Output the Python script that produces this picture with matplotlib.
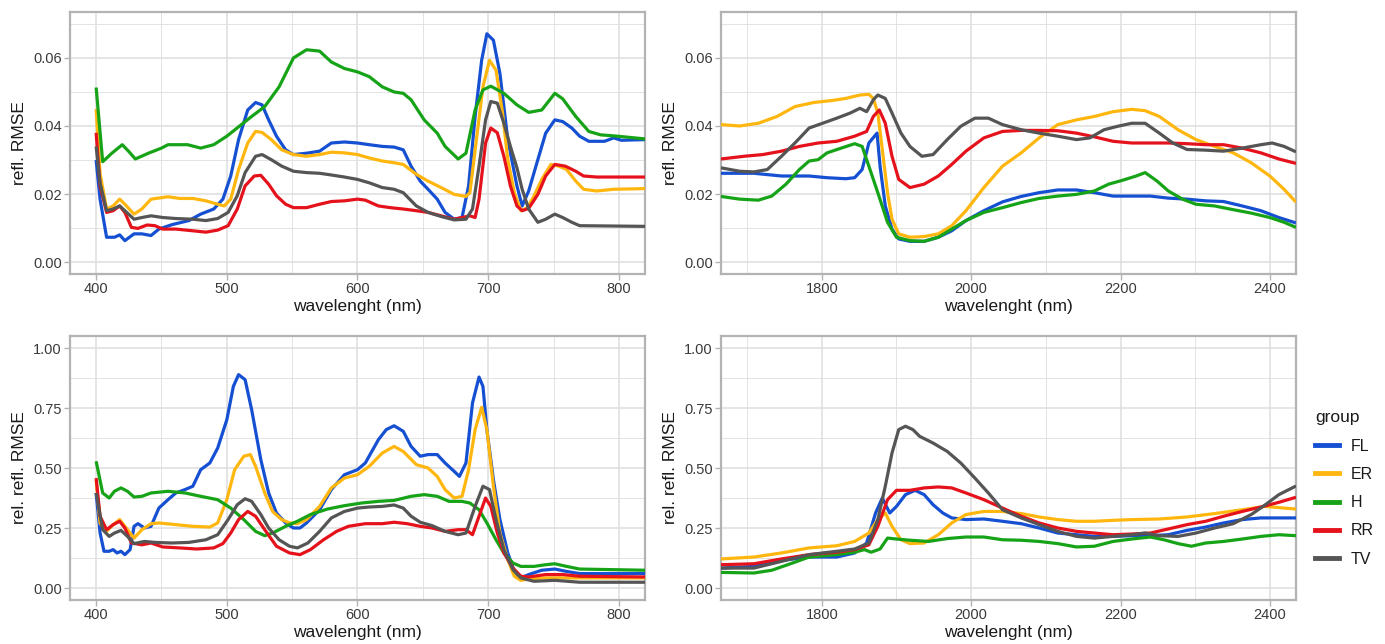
import matplotlib
matplotlib.use("Agg")
import matplotlib.pyplot as plt
from matplotlib.ticker import MultipleLocator
from matplotlib.lines import Line2D

plt.rcParams['font.family'] = ['Liberation Sans', 'DejaVu Sans']

groups = ["FL", "ER", "H", "RR", "TV"]
colors = {"FL": "#1550D2", "ER": "#FFB70F", "H": "#17A317", "RR": "#E5121C", "TV": "#555555"}

# ---------------- Top-left: VIS, refl. RMSE ----------------
tl_fl_x = [400, 403, 408, 414, 418, 422, 429, 435, 442, 448, 458, 471, 480, 490, 497, 503, 509, 516, 522, 527, 532, 538, 545, 551, 561, 571, 580, 590, 600, 609, 619, 628, 635, 641, 648, 654, 661, 667, 674, 680, 685, 690, 695, 699, 704, 709, 715, 722, 726, 731, 738, 744, 751, 757, 764, 770, 777, 789, 796, 802, 820]
tl_fl_y = [0.030, 0.0185, 0.0073, 0.0073, 0.0080, 0.0063, 0.0083, 0.0083, 0.0078, 0.0097, 0.0110, 0.0122, 0.0141, 0.0156, 0.0185, 0.0253, 0.0360, 0.0447, 0.0469, 0.0462, 0.0418, 0.0370, 0.0330, 0.0316, 0.0320, 0.0326, 0.0350, 0.0353, 0.0350, 0.0345, 0.0340, 0.0338, 0.0330, 0.0282, 0.0238, 0.0214, 0.0185, 0.0146, 0.0126, 0.0131, 0.0224, 0.0428, 0.0593, 0.0671, 0.0652, 0.0554, 0.0360, 0.0224, 0.0165, 0.0209, 0.0301, 0.0379, 0.0418, 0.0413, 0.0394, 0.0370, 0.0355, 0.0355, 0.0365, 0.0358, 0.0360]

tl_er_x = [400, 403, 408, 413, 418, 422, 429, 435, 442, 455, 464, 474, 484, 493, 498, 503, 509, 516, 522, 527, 534, 542, 551, 561, 571, 580, 590, 600, 609, 619, 628, 635, 645, 654, 664, 674, 683, 686, 691, 696, 701, 706, 711, 715, 720, 725, 730, 735, 741, 748, 754, 760, 767, 773, 783, 796, 820]
tl_er_y = [0.045, 0.026, 0.0156, 0.0165, 0.0185, 0.0170, 0.0141, 0.0156, 0.0185, 0.0192, 0.0187, 0.0187, 0.0180, 0.0170, 0.0165, 0.0185, 0.0272, 0.0350, 0.0384, 0.0381, 0.0360, 0.0330, 0.0316, 0.0311, 0.0316, 0.0323, 0.0321, 0.0316, 0.0306, 0.0297, 0.0292, 0.0287, 0.0258, 0.0238, 0.0219, 0.0199, 0.0193, 0.0204, 0.0360, 0.0515, 0.0593, 0.0564, 0.0438, 0.0301, 0.0204, 0.0151, 0.0160, 0.0194, 0.0243, 0.0287, 0.0282, 0.0272, 0.0238, 0.0214, 0.0209, 0.0214, 0.0216]

tl_h_x = [400, 405, 412, 420, 425, 430, 440, 450, 455, 470, 480, 490, 500, 519, 529, 540, 551, 561, 571, 580, 590, 600, 609, 619, 628, 635, 641, 651, 661, 667, 677, 683, 690, 696, 702, 712, 722, 731, 741, 751, 757, 767, 777, 786, 799, 820]
tl_h_y = [0.0513, 0.0295, 0.0320, 0.0345, 0.0325, 0.0303, 0.0320, 0.0335, 0.0345, 0.0345, 0.0335, 0.0345, 0.0370, 0.0428, 0.0457, 0.0515, 0.0600, 0.0624, 0.0620, 0.0588, 0.0569, 0.0559, 0.0545, 0.0515, 0.0500, 0.0496, 0.0477, 0.0418, 0.0379, 0.0340, 0.0303, 0.0320, 0.0447, 0.0506, 0.0517, 0.0496, 0.0462, 0.0440, 0.0447, 0.0496, 0.0480, 0.0428, 0.0384, 0.0374, 0.0370, 0.0362]

tl_rr_x = [400, 403, 408, 413, 418, 422, 427, 432, 439, 445, 451, 461, 474, 484, 493, 501, 508, 514, 521, 526, 532, 538, 545, 551, 561, 571, 580, 590, 600, 606, 616, 625, 635, 645, 654, 664, 674, 680, 686, 690, 693, 698, 702, 707, 712, 717, 722, 726, 731, 738, 744, 751, 759, 767, 773, 783, 820]
tl_rr_y = [0.038, 0.0224, 0.0146, 0.0151, 0.0165, 0.0146, 0.0102, 0.0099, 0.0109, 0.0107, 0.0097, 0.0097, 0.0092, 0.0088, 0.0094, 0.0107, 0.0156, 0.0224, 0.0253, 0.0255, 0.0229, 0.0195, 0.0170, 0.0160, 0.0160, 0.0170, 0.0178, 0.0180, 0.0185, 0.0182, 0.0165, 0.0160, 0.0156, 0.0151, 0.0146, 0.0136, 0.0126, 0.0131, 0.0136, 0.0131, 0.0185, 0.0350, 0.0394, 0.0380, 0.0311, 0.0224, 0.0165, 0.0151, 0.0158, 0.0199, 0.0253, 0.0287, 0.0282, 0.0267, 0.0253, 0.0250, 0.0250]

tl_tv_x = [400, 403, 408, 413, 418, 422, 429, 435, 442, 451, 461, 474, 484, 493, 501, 508, 514, 522, 527, 534, 542, 551, 561, 571, 580, 590, 600, 609, 619, 628, 635, 645, 654, 664, 674, 683, 688, 693, 698, 702, 707, 712, 717, 722, 726, 731, 738, 744, 751, 757, 764, 770, 820]
tl_tv_y = [0.034, 0.0233, 0.0151, 0.0156, 0.0165, 0.0151, 0.0126, 0.0131, 0.0136, 0.0131, 0.0128, 0.0126, 0.0122, 0.0128, 0.0146, 0.0195, 0.0263, 0.0311, 0.0316, 0.0301, 0.0282, 0.0267, 0.0263, 0.0261, 0.0256, 0.0250, 0.0243, 0.0233, 0.0219, 0.0214, 0.0204, 0.0165, 0.0146, 0.0134, 0.0124, 0.0126, 0.0156, 0.0282, 0.0418, 0.0472, 0.0467, 0.0408, 0.0340, 0.0277, 0.0214, 0.0156, 0.0117, 0.0126, 0.0141, 0.0131, 0.0117, 0.0107, 0.0105]

# ---------------- Top-right: SWIR, refl. RMSE ----------------
tr_fl_x = [1665, 1709, 1746, 1783, 1807, 1832, 1844, 1854, 1863, 1874, 1878, 1885, 1894, 1903, 1918, 1937, 1956, 1974, 1993, 2017, 2042, 2067, 2091, 2116, 2141, 2165, 2190, 2215, 2240, 2264, 2289, 2314, 2338, 2363, 2388, 2412, 2435]
tr_fl_y = [0.0261, 0.0261, 0.0253, 0.0253, 0.0248, 0.0245, 0.0248, 0.0272, 0.0350, 0.0379, 0.0282, 0.0165, 0.0097, 0.0068, 0.0061, 0.0061, 0.0073, 0.0092, 0.0122, 0.0151, 0.0177, 0.0193, 0.0204, 0.0212, 0.0212, 0.0204, 0.0194, 0.0194, 0.0194, 0.0188, 0.0185, 0.0180, 0.0178, 0.0165, 0.0151, 0.0131, 0.0115]

tr_er_x = [1665, 1690, 1715, 1740, 1764, 1789, 1814, 1832, 1851, 1863, 1869, 1875, 1881, 1888, 1894, 1903, 1918, 1937, 1956, 1974, 1993, 2017, 2042, 2067, 2091, 2116, 2141, 2165, 2190, 2215, 2233, 2252, 2277, 2301, 2326, 2351, 2375, 2400, 2419, 2435]
tr_er_y = [0.0404, 0.0400, 0.0408, 0.0428, 0.0457, 0.0469, 0.0475, 0.0481, 0.0491, 0.0493, 0.0481, 0.0438, 0.0331, 0.0204, 0.0126, 0.0083, 0.0073, 0.0075, 0.0083, 0.0107, 0.0151, 0.0219, 0.0282, 0.0321, 0.0365, 0.0404, 0.0418, 0.0428, 0.0442, 0.0449, 0.0445, 0.0428, 0.0389, 0.0360, 0.0340, 0.0321, 0.0292, 0.0253, 0.0214, 0.0176]

tr_h_x = [1665, 1690, 1715, 1733, 1752, 1770, 1783, 1795, 1807, 1826, 1844, 1854, 1863, 1875, 1888, 1900, 1918, 1937, 1956, 1974, 1993, 2017, 2042, 2067, 2091, 2116, 2141, 2165, 2184, 2202, 2221, 2233, 2249, 2264, 2283, 2301, 2326, 2351, 2375, 2400, 2419, 2435]
tr_h_y = [0.0193, 0.0185, 0.0182, 0.0194, 0.0229, 0.0272, 0.0297, 0.0301, 0.0321, 0.0335, 0.0348, 0.0340, 0.0282, 0.0204, 0.0117, 0.0073, 0.0063, 0.0061, 0.0073, 0.0097, 0.0122, 0.0146, 0.0160, 0.0175, 0.0187, 0.0194, 0.0199, 0.0209, 0.0229, 0.0240, 0.0253, 0.0263, 0.0238, 0.0209, 0.0185, 0.0170, 0.0165, 0.0154, 0.0144, 0.0131, 0.0117, 0.0102]

tr_rr_x = [1665, 1696, 1721, 1746, 1770, 1795, 1820, 1844, 1860, 1869, 1877, 1885, 1894, 1903, 1918, 1937, 1956, 1974, 1993, 2017, 2042, 2067, 2091, 2116, 2141, 2165, 2190, 2215, 2240, 2264, 2289, 2314, 2338, 2363, 2388, 2412, 2435]
tr_rr_y = [0.0303, 0.0311, 0.0316, 0.0326, 0.0340, 0.0350, 0.0355, 0.0370, 0.0384, 0.0428, 0.0447, 0.0408, 0.0311, 0.0243, 0.0219, 0.0229, 0.0253, 0.0287, 0.0326, 0.0365, 0.0384, 0.0387, 0.0387, 0.0386, 0.0379, 0.0368, 0.0355, 0.0350, 0.0350, 0.0350, 0.0348, 0.0345, 0.0345, 0.0335, 0.0321, 0.0303, 0.0290]

tr_tv_x = [1665, 1690, 1709, 1727, 1746, 1764, 1783, 1801, 1820, 1838, 1851, 1860, 1869, 1875, 1885, 1894, 1906, 1918, 1934, 1949, 1968, 1986, 2005, 2023, 2042, 2067, 2091, 2116, 2141, 2159, 2178, 2196, 2215, 2233, 2252, 2270, 2289, 2314, 2338, 2363, 2388, 2403, 2419, 2435]
tr_tv_y = [0.0277, 0.0267, 0.0265, 0.0272, 0.0311, 0.0350, 0.0394, 0.0408, 0.0423, 0.0438, 0.0452, 0.0442, 0.0477, 0.0491, 0.0481, 0.0438, 0.0379, 0.0340, 0.0311, 0.0316, 0.0360, 0.0399, 0.0423, 0.0423, 0.0404, 0.0389, 0.0379, 0.0370, 0.0360, 0.0365, 0.0389, 0.0399, 0.0408, 0.0408, 0.0379, 0.0350, 0.0331, 0.0329, 0.0326, 0.0335, 0.0345, 0.0350, 0.0340, 0.0324]

# ---------------- Bottom-left: VIS, rel. refl. RMSE ----------------
bl_fl_x = [400, 403, 406, 410, 413, 416, 419, 422, 426, 429, 432, 437, 442, 448, 455, 461, 468, 474, 480, 487, 493, 500, 505, 509, 514, 519, 526, 532, 538, 545, 551, 556, 561, 571, 580, 590, 600, 606, 616, 622, 628, 635, 641, 648, 654, 661, 667, 674, 678, 683, 688, 693, 696, 699, 704, 709, 715, 720, 725, 731, 741, 751, 760, 770, 820]
bl_fl_y = [0.396, 0.230, 0.153, 0.153, 0.160, 0.146, 0.153, 0.139, 0.160, 0.257, 0.268, 0.250, 0.257, 0.333, 0.368, 0.396, 0.410, 0.424, 0.493, 0.521, 0.583, 0.701, 0.840, 0.889, 0.868, 0.743, 0.535, 0.396, 0.3125, 0.271, 0.250, 0.250, 0.271, 0.326, 0.410, 0.472, 0.493, 0.521, 0.618, 0.660, 0.676, 0.653, 0.590, 0.549, 0.556, 0.556, 0.521, 0.486, 0.465, 0.521, 0.771, 0.879, 0.840, 0.660, 0.451, 0.285, 0.146, 0.069, 0.042, 0.056, 0.074, 0.079, 0.069, 0.060, 0.060]

bl_er_x = [400, 403, 408, 413, 418, 422, 429, 435, 442, 448, 461, 474, 487, 493, 500, 506, 513, 518, 522, 529, 535, 542, 548, 554, 561, 571, 580, 590, 600, 609, 619, 628, 635, 645, 654, 661, 667, 674, 680, 685, 690, 695, 699, 704, 709, 715, 720, 725, 731, 744, 820]
bl_er_y = [0.450, 0.270, 0.236, 0.264, 0.285, 0.257, 0.208, 0.243, 0.268, 0.271, 0.264, 0.257, 0.254, 0.271, 0.368, 0.493, 0.549, 0.556, 0.507, 0.396, 0.319, 0.285, 0.271, 0.268, 0.285, 0.340, 0.417, 0.458, 0.472, 0.507, 0.5625, 0.590, 0.569, 0.514, 0.500, 0.465, 0.410, 0.375, 0.382, 0.493, 0.660, 0.753, 0.660, 0.424, 0.229, 0.118, 0.049, 0.032, 0.0375, 0.042, 0.042]

bl_h_x = [400, 405, 410, 414, 419, 424, 429, 435, 442, 455, 468, 480, 493, 503, 513, 522, 529, 535, 545, 554, 564, 577, 590, 603, 616, 628, 641, 651, 661, 670, 680, 686, 693, 699, 706, 712, 719, 725, 735, 744, 751, 760, 770, 820]
bl_h_y = [0.528, 0.396, 0.375, 0.403, 0.417, 0.403, 0.379, 0.382, 0.396, 0.403, 0.396, 0.382, 0.368, 0.333, 0.285, 0.236, 0.218, 0.229, 0.257, 0.278, 0.306, 0.329, 0.343, 0.354, 0.361, 0.365, 0.382, 0.389, 0.382, 0.361, 0.361, 0.354, 0.326, 0.271, 0.201, 0.146, 0.104, 0.090, 0.090, 0.097, 0.101, 0.090, 0.079, 0.074]

bl_rr_x = [400, 403, 408, 413, 418, 422, 427, 435, 442, 451, 464, 477, 490, 497, 503, 509, 516, 522, 529, 538, 548, 556, 564, 574, 584, 593, 606, 619, 628, 638, 648, 657, 667, 677, 683, 688, 693, 698, 702, 707, 712, 719, 725, 731, 744, 757, 770, 820]
bl_rr_y = [0.458, 0.299, 0.243, 0.264, 0.278, 0.250, 0.1875, 0.180, 0.1875, 0.171, 0.167, 0.1625, 0.167, 0.185, 0.229, 0.285, 0.319, 0.299, 0.243, 0.174, 0.146, 0.139, 0.160, 0.201, 0.236, 0.257, 0.268, 0.268, 0.274, 0.268, 0.257, 0.250, 0.236, 0.243, 0.243, 0.222, 0.299, 0.375, 0.340, 0.229, 0.146, 0.083, 0.049, 0.046, 0.056, 0.056, 0.049, 0.046]

bl_tv_x = [400, 405, 410, 414, 419, 424, 429, 437, 445, 458, 471, 484, 493, 501, 508, 514, 519, 526, 532, 540, 548, 554, 562, 571, 580, 590, 600, 609, 619, 628, 635, 641, 648, 657, 667, 677, 683, 690, 696, 701, 706, 712, 719, 725, 735, 751, 770, 820]
bl_tv_y = [0.396, 0.243, 0.215, 0.229, 0.240, 0.215, 0.185, 0.194, 0.190, 0.1875, 0.190, 0.201, 0.222, 0.285, 0.347, 0.372, 0.361, 0.306, 0.250, 0.201, 0.174, 0.167, 0.1875, 0.236, 0.292, 0.319, 0.333, 0.3375, 0.340, 0.346, 0.333, 0.299, 0.274, 0.260, 0.236, 0.222, 0.229, 0.340, 0.424, 0.410, 0.285, 0.160, 0.076, 0.042, 0.028, 0.032, 0.024, 0.024]

# ---------------- Bottom-right: SWIR, rel. refl. RMSE ----------------
br_fl_x = [1665, 1709, 1746, 1783, 1820, 1844, 1860, 1872, 1881, 1891, 1900, 1912, 1925, 1937, 1949, 1962, 1974, 1993, 2017, 2042, 2067, 2091, 2116, 2141, 2165, 2190, 2215, 2240, 2264, 2289, 2314, 2338, 2363, 2388, 2412, 2435]
br_fl_y = [0.083, 0.090, 0.115, 0.129, 0.129, 0.146, 0.1875, 0.3125, 0.375, 0.3125, 0.340, 0.389, 0.407, 0.389, 0.347, 0.3125, 0.292, 0.285, 0.2875, 0.278, 0.268, 0.250, 0.229, 0.222, 0.215, 0.215, 0.218, 0.218, 0.222, 0.240, 0.254, 0.271, 0.285, 0.292, 0.292, 0.292]

br_er_x = [1665, 1709, 1746, 1783, 1820, 1844, 1863, 1875, 1885, 1894, 1906, 1918, 1937, 1956, 1974, 1993, 2017, 2042, 2067, 2091, 2116, 2141, 2165, 2190, 2215, 2252, 2289, 2326, 2363, 2394, 2419, 2435]
br_er_y = [0.121, 0.129, 0.146, 0.167, 0.176, 0.194, 0.229, 0.285, 0.3125, 0.257, 0.201, 0.185, 0.1875, 0.222, 0.271, 0.306, 0.319, 0.319, 0.310, 0.296, 0.285, 0.278, 0.278, 0.282, 0.285, 0.2875, 0.296, 0.310, 0.326, 0.340, 0.333, 0.329]

br_h_x = [1665, 1709, 1733, 1758, 1783, 1820, 1844, 1857, 1866, 1878, 1888, 1900, 1918, 1943, 1968, 1993, 2017, 2042, 2067, 2091, 2116, 2141, 2165, 2190, 2215, 2240, 2258, 2277, 2295, 2314, 2338, 2363, 2388, 2412, 2435]
br_h_y = [0.065, 0.0625, 0.074, 0.101, 0.129, 0.139, 0.149, 0.160, 0.149, 0.1625, 0.208, 0.204, 0.199, 0.194, 0.206, 0.2125, 0.2125, 0.201, 0.199, 0.194, 0.185, 0.171, 0.174, 0.194, 0.204, 0.2125, 0.201, 0.185, 0.174, 0.1875, 0.194, 0.204, 0.215, 0.222, 0.218]

br_rr_x = [1665, 1709, 1746, 1783, 1820, 1844, 1863, 1875, 1888, 1900, 1918, 1937, 1956, 1974, 1993, 2017, 2042, 2067, 2091, 2116, 2141, 2165, 2190, 2215, 2240, 2264, 2289, 2314, 2338, 2363, 2388, 2412, 2435]
br_rr_y = [0.097, 0.101, 0.121, 0.139, 0.149, 0.160, 0.180, 0.257, 0.368, 0.407, 0.407, 0.417, 0.421, 0.417, 0.396, 0.368, 0.333, 0.299, 0.271, 0.250, 0.236, 0.229, 0.222, 0.225, 0.229, 0.246, 0.264, 0.278, 0.299, 0.319, 0.3375, 0.357, 0.378]

br_tv_x = [1665, 1709, 1746, 1783, 1820, 1844, 1863, 1875, 1885, 1894, 1903, 1912, 1922, 1931, 1949, 1968, 1986, 2005, 2023, 2042, 2067, 2091, 2116, 2141, 2165, 2190, 2215, 2233, 2252, 2277, 2301, 2326, 2351, 2375, 2394, 2412, 2435]
br_tv_y = [0.083, 0.083, 0.111, 0.139, 0.153, 0.1625, 0.1875, 0.285, 0.424, 0.5625, 0.660, 0.674, 0.660, 0.632, 0.604, 0.569, 0.521, 0.458, 0.396, 0.326, 0.292, 0.264, 0.236, 0.215, 0.208, 0.215, 0.222, 0.229, 0.218, 0.215, 0.229, 0.250, 0.268, 0.306, 0.347, 0.389, 0.425]

panels = [
    dict(data={"FL": (tl_fl_x, tl_fl_y), "ER": (tl_er_x, tl_er_y), "H": (tl_h_x, tl_h_y),
               "RR": (tl_rr_x, tl_rr_y), "TV": (tl_tv_x, tl_tv_y)}),
    dict(data={"FL": (tr_fl_x, tr_fl_y), "ER": (tr_er_x, tr_er_y), "H": (tr_h_x, tr_h_y),
               "RR": (tr_rr_x, tr_rr_y), "TV": (tr_tv_x, tr_tv_y)}),
    dict(data={"FL": (bl_fl_x, bl_fl_y), "ER": (bl_er_x, bl_er_y), "H": (bl_h_x, bl_h_y),
               "RR": (bl_rr_x, bl_rr_y), "TV": (bl_tv_x, bl_tv_y)}),
    dict(data={"FL": (br_fl_x, br_fl_y), "ER": (br_er_x, br_er_y), "H": (br_h_x, br_h_y),
               "RR": (br_rr_x, br_rr_y), "TV": (br_tv_x, br_tv_y)}),
]

W, H = 1385, 644
fig = plt.figure(figsize=(W / 100, H / 100), dpi=100)

def rect(l, r, t, b):
    return [l / W, 1 - b / H, (r - l) / W, (b - t) / H]

rects = [rect(70, 645, 12, 274), rect(721, 1296, 12, 274),
         rect(70, 645, 336, 600), rect(721, 1296, 336, 600)]
xlims = [(380, 820), (1665, 2435), (380, 820), (1665, 2435)]
ylims = [(-0.0035, 0.0735), (-0.0035, 0.0735), (-0.05, 1.05), (-0.05, 1.05)]
ylabels = ["refl. RMSE", "refl. RMSE", "rel. refl. RMSE", "rel. refl. RMSE"]

border_c = "#B3B3B3"
grid_c = "#DEDEDE"
text_c = "#3A3A3A"

for i, p in enumerate(panels):
    ax = fig.add_axes(rects[i])
    for g in groups:
        x, y = p["data"][g]
        ax.plot(x, y, color=colors[g], lw=2.3, solid_joinstyle="round", solid_capstyle="butt", zorder=3)
    ax.set_xlim(*xlims[i])
    ax.set_ylim(*ylims[i])
    if i in (0, 2):
        ax.xaxis.set_major_locator(MultipleLocator(100))
        ax.xaxis.set_minor_locator(MultipleLocator(50))
    else:
        ax.xaxis.set_major_locator(MultipleLocator(200))
        ax.xaxis.set_minor_locator(MultipleLocator(100))
    if i < 2:
        ax.yaxis.set_major_locator(MultipleLocator(0.02))
        ax.yaxis.set_minor_locator(MultipleLocator(0.01))
    else:
        ax.yaxis.set_major_locator(MultipleLocator(0.25))
        ax.yaxis.set_minor_locator(MultipleLocator(0.125))
    ax.yaxis.set_major_formatter(plt.FuncFormatter(lambda v, _: f"{v:.2f}"))
    ax.grid(True, which="major", color=grid_c, lw=1.1, zorder=0)
    ax.grid(True, which="minor", color=grid_c, lw=0.6, zorder=0)
    ax.set_axisbelow(True)
    for s in ax.spines.values():
        s.set_color(border_c)
        s.set_linewidth(1.6)
    ax.tick_params(which="major", length=4, width=1.0, color=border_c, labelcolor=text_c,
                   labelsize=10.5, pad=2)
    ax.tick_params(which="minor", length=0)
    ax.set_xlabel("wavelenght (nm)", fontsize=12.5, color="#1A1A1A", labelpad=2)
    ax.set_ylabel(ylabels[i], fontsize=12.5, color="#1A1A1A", labelpad=4)

handles = [Line2D([0], [0], color=colors[g], lw=3.5) for g in groups]
leg = fig.legend(handles, groups, title="group", loc="upper left",
                 bbox_to_anchor=(1309 / W, 1 - 404 / H), frameon=False,
                 fontsize=11.5, title_fontsize=12.5, handlelength=1.5,
                 handletextpad=0.7, labelspacing=0.83, borderaxespad=0)
leg._legend_box.align = "left"
for t in leg.get_texts():
    t.set_color("#1A1A1A")
leg.get_title().set_color("#1A1A1A")

fig.savefig("out.png", dpi=100)
